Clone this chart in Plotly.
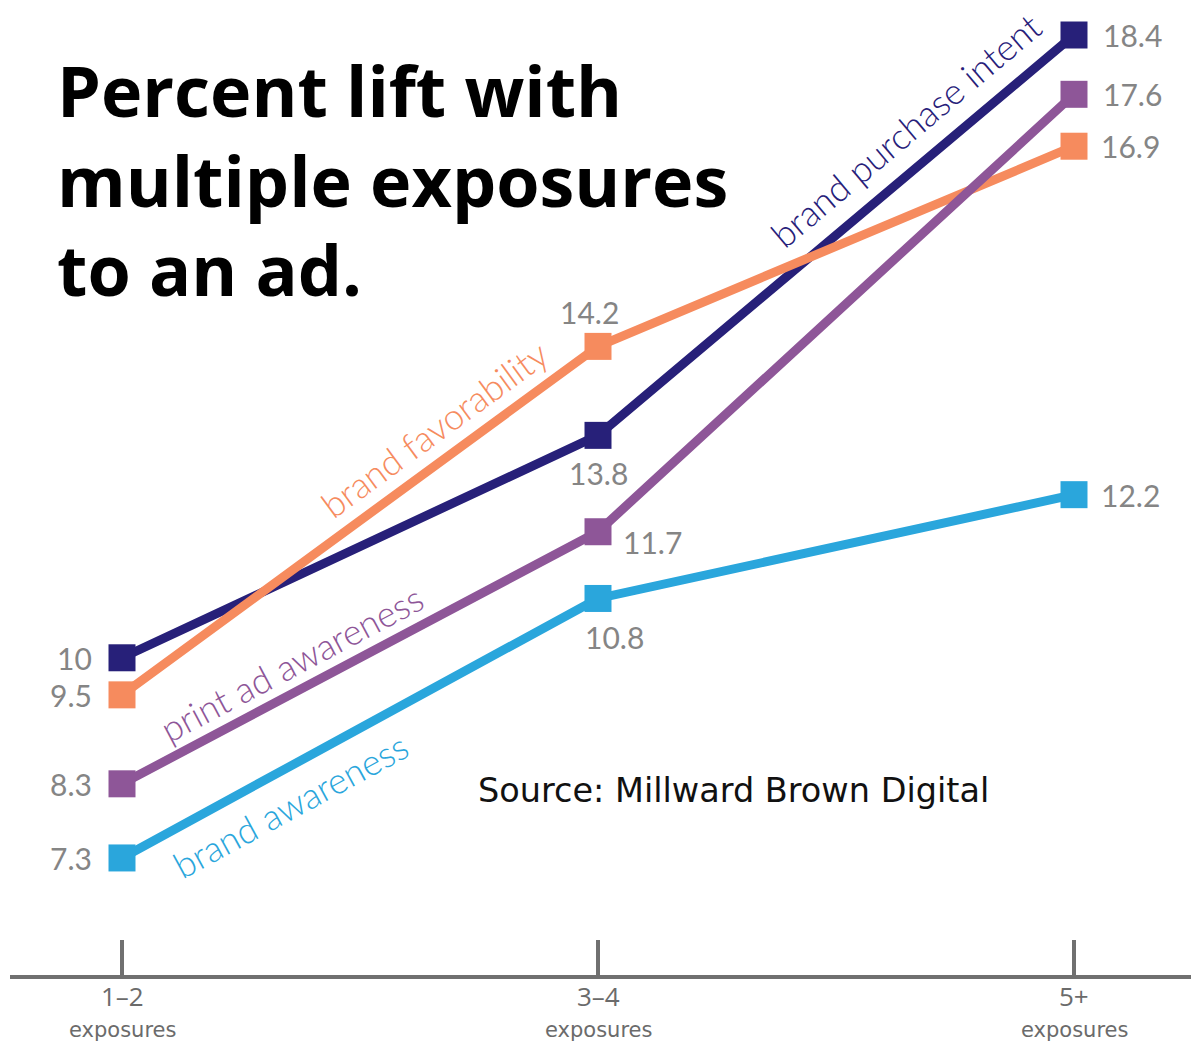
import math
import plotly.graph_objects as go

categories_top = ["1–2", "3–4", "5+"]
categories_bottom = ["exposures", "exposures", "exposures"]
series_names = ["brand purchase intent", "brand favorability", "print ad awareness", "brand awareness"]
# plotted positions
purchase_intent = [10.0, 13.0, 18.4]
favorability = [9.5, 14.2, 16.9]
print_ad_awareness = [8.3, 11.7, 17.6]
brand_awareness = [7.3, 10.8, 12.2]
# value labels as printed on the chart
purchase_intent_labels = ["10", "13.8", "18.4"]
favorability_labels = ["9.5", "14.2", "16.9"]
print_ad_awareness_labels = ["8.3", "11.7", "17.6"]
brand_awareness_labels = ["7.3", "10.8", "12.2"]

colors = ["#272079", "#F68B5E", "#8E5698", "#2AA6DC"]
series = [purchase_intent, favorability, print_ad_awareness, brand_awareness]
labels = [purchase_intent_labels, favorability_labels, print_ad_awareness_labels, brand_awareness_labels]
xs = [0, 1, 2]

# layout geometry (pixels)
W, H = 1191, 1043
L, R, T, B = 10, 0, 0, 68
PX_PER_X = 476.0
X_LEFT = 0 - (122 - L) / PX_PER_X
X_RIGHT = 2 + (W - R - 1074) / PX_PER_X
PX_PER_Y = 74.14
Y_TOP = 18.4 + 35 / PX_PER_Y
Y_BOTTOM = Y_TOP - (H - T - B) / PX_PER_Y
PLOT_H = H - T - B
PLOT_W = W - L - R

fig = go.Figure()
for name, vals, col in zip(series_names, series, colors):
    fig.add_trace(go.Scatter(
        x=xs, y=vals, mode="lines+markers", name=name,
        line=dict(color=col, width=9),
        marker=dict(symbol="square", size=27, color=col),
        showlegend=False, hoverinfo="skip"))

val_font = dict(family="Lato, Noto Sans, sans-serif", size=30, color="#858585")

# value label offsets (xshift, yshift, xanchor) per series per point
offsets = [
    [(-28, 0, "right"), (0, -38, "center"), (27, 0, "left")],
    [(-28, 0, "right"), (-9, 34, "center"), (25, 0, "left")],
    [(-28, 0, "right"), (23, -10, "left"), (27, 0, "left")],
    [(-28, 0, "right"), (16, -39, "center"), (25, 0, "left")],
]
for vals, labs, offs in zip(series, labels, offsets):
    for x, v, lab, (dx, dy, xa) in zip(xs, vals, labs, offs):
        fig.add_annotation(x=x, y=v, text=lab, showarrow=False, xshift=dx, yshift=dy,
                           xanchor=xa, yanchor="middle", font=val_font)

# rotated series labels along segments
label_specs = [
    # series index, segment start, fraction along segment, yshift
    (0, 1, (905 - 597) / 477, 47),
    (1, 0, (433 - 122) / 475, 38),
    (2, 0, (291 - 122) / 475, 31),
    (3, 0, (290 - 122) / 475, -39),
]
for si, seg, frac, dy in label_specs:
    vals = series[si]
    x0, x1 = xs[seg], xs[seg + 1]
    y0, y1 = vals[seg], vals[seg + 1]
    xm = x0 + (x1 - x0) * frac
    ym = y0 + (y1 - y0) * frac
    ang = math.degrees(math.atan2((y1 - y0) * PX_PER_Y, (x1 - x0) * PX_PER_X))
    fig.add_annotation(x=xm, y=ym, text=series_names[si], showarrow=False,
                       textangle=-ang, yshift=dy, xanchor="center", yanchor="middle",
                       font=dict(family="Lato, sans-serif", size=36, weight=300, color=colors[si]))

# title lines
title_lines = ["Percent lift with", "multiple exposures", "to an ad."]
for i, line in enumerate(title_lines):
    fig.add_annotation(xref="paper", yref="paper", x=(55 - L) / PLOT_W,
                       y=(H - B - (118 + 89.5 * i + 22)) / PLOT_H,
                       text=f"<b>{line}</b>", showarrow=False, xanchor="left", yanchor="bottom",
                       font=dict(family="Open Sans, sans-serif", size=70, color="#000000"))

fig.add_annotation(xref="paper", yref="paper", x=(476 - L) / PLOT_W,
                   y=(H - B - 790) / PLOT_H, text="Source: Millward Brown Digital",
                   showarrow=False, xanchor="left", yanchor="middle",
                   font=dict(family="DejaVu Sans, sans-serif", size=33.5, color="#111111"))

# category labels (two lines each) under the axis
SPLIT = 1016
for x, top, bot in zip(xs, categories_top, categories_bottom):
    fig.add_annotation(x=x, yref="paper", y=-(SPLIT - (H - B)) / PLOT_H, text=top,
                       showarrow=False, xanchor="center", yanchor="bottom",
                       font=dict(family="Open Sans, sans-serif", size=26, color="#6b6b6b"))
    fig.add_annotation(x=x, yref="paper", y=-(SPLIT - (H - B)) / PLOT_H, text=bot,
                       showarrow=False, xanchor="center", yanchor="top",
                       font=dict(family="DejaVu Sans, sans-serif", size=21, color="#6b6b6b"))

fig.update_xaxes(range=[X_LEFT, X_RIGHT], tickmode="array", tickvals=xs, showticklabels=False,
                 showgrid=False, zeroline=False, showline=True, linewidth=4, linecolor="#707070",
                 ticks="inside", ticklen=35, tickwidth=4, tickcolor="#707070", fixedrange=True)
fig.update_yaxes(range=[Y_BOTTOM, Y_TOP], visible=False, showgrid=False, zeroline=False, fixedrange=True)

fig.update_layout(width=W, height=H, margin=dict(l=L, r=R, t=T, b=B, pad=0),
                  plot_bgcolor="white", paper_bgcolor="white")

fig.write_html("out.html")
